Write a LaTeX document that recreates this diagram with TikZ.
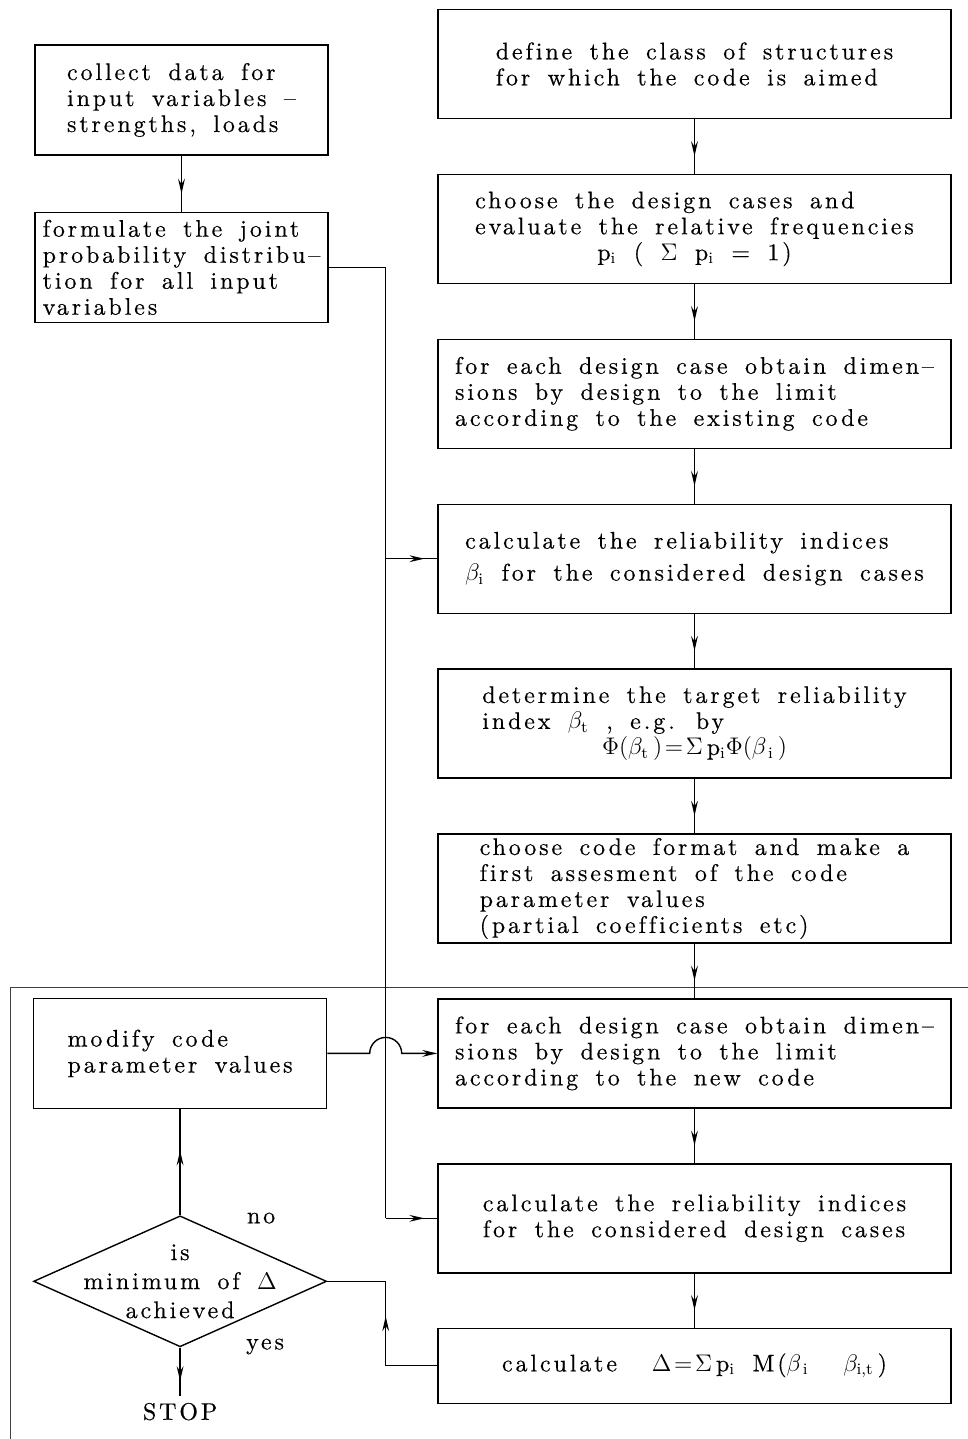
\documentclass[tikz,border=0pt]{standalone}
\usepackage{fontspec}
\usetikzlibrary{arrows.meta,positioning,calc,shapes.geometric,decorations.markings}
\newfontfamily\boxfont{lmroman10-regular.otf}[LetterSpace=12,WordSpace=1.6,Ligatures=CommonOff,FakeBold=0.4]
\newcommand\idx[1]{$_{\mathrm{#1}}$}
\tikzset{
  >={Stealth[length=7.5pt,width=3.4pt,inset=2.6pt]},
  txt/.style={font=\boxfont\fontsize{12pt}{13pt}\selectfont},
  rbox/.style={draw,txt,align=left,minimum width=256.5pt,minimum height=54.5pt,inner ysep=0pt,inner xsep=0pt},
  lbox/.style={draw,txt,align=left,minimum width=146.5pt,minimum height=55pt,inner ysep=0pt,inner xsep=0pt},
  dbox/.style={draw,diamond,minimum width=146.5pt,minimum height=65.5pt,inner sep=0pt},
  dtxt/.style={font=\boxfont\fontsize{12pt}{14.5pt}\selectfont,align=center},
  frame/.style={draw=black!75,line width=0.5pt},
  midarrow/.style={postaction={decorate,decoration={markings,mark=at position #1 with {\arrow{>}}}}},
  midarrow/.default=0.68
}

\begin{document}
\begin{tikzpicture}[x=0.5pt,y=-0.5pt,node distance=27.25pt,line width=0.7pt]
  \useasboundingbox (0,0) rectangle (968,1439);
  % loop frame
  \draw[frame] (10,1460) -- (10,987) -- (990,987);

  % main column
  \node[rbox] (r1) at (694.5,64) {define the class of structures\\for which the code is aimed};
  \node[rbox,below=of r1] (r2) {choose the design cases and\\evaluate the relative frequencies\\\hfil p\idx{i} ( $\Sigma$ p\idx{i} = 1)};
  \node[rbox,below=of r2] (r3) {for each design case obtain dimen–\\sions by design to the limit\\according to the existing code};
  \node[rbox,below=of r3] (r4) {calculate the reliability indices\\[3pt]$\beta_{\mathrm{i}}$ for the considered design cases};
  \node[rbox,below=of r4] (r5) {determine the target reliability\\index $\beta_{\mathrm{t}}$ , e.g. by\\\hfil$\Phi(\beta_{\mathrm{t}}\,)\!=\!\Sigma\,$p\idx{i}$\Phi(\beta_{\,\mathrm{i}}\,)$};
  \node[rbox,below=of r5] (r6) {choose code format and make a\\first assesment of the code\\parameter values\\(partial coefficients etc)};
  \node[rbox,below=of r6] (r7) {for each design case obtain dimen–\\sions by design to the limit\\according to the new code};
  \node[rbox,below=of r7] (r8) {calculate the reliability indices\\for the considered design cases};
  \node[rbox,below=27pt of r8,minimum height=37.5pt,align=center] (r9) {calculate \ $\Delta\!=\!\Sigma\,$p\idx{i} M($\beta_{\,\mathrm{i}}$ \ $\beta_{\mathrm{i,t}}\,$)};

  % input side
  \node[lbox] (a) at (181.5,100) {collect data for\\input variables –\\strengths, loads};
  \node[lbox,below=28pt of a] (b) {formulate the joint\\probability distribu–\\tion for all input\\variables};

  % loop side
  \node[lbox,left=55pt of r7] (c) {modify code\\parameter values};
  \node[dbox,below=53pt of c,label={[dtxt]center:is\\minimum of $\Delta$\\achieved}] (dia) {};
  \node[txt,below=24pt of dia] (stop) {STOP};
  \node[txt] (no) at ($(dia.north)+(81,3)$) {no};
  \node[txt] (yes) at ($(dia.south)+(85,-1)$) {yes};

  \coordinate (trunk) at ($(b.east)+(57,0)$);

  \draw[midarrow] (a) -- (b);
  \foreach \u/\v in {r1/r2,r2/r3,r3/r4,r4/r5,r5/r6,r6/r7,r7/r8,r8/r9}
    \draw[midarrow] (\u) -- (\v);

  \draw (b.east) -- (trunk) -- (trunk |- r8.west);
  \draw[midarrow=0.75] (trunk |- r4.west) -- (r4.west);
  \draw[midarrow=0.75] (trunk |- r8.west) -- (r8.west);
  \draw[->] (c.east) -- ($(trunk |- c.east)+(-8pt,0)$) arc[start angle=180,end angle=0,radius=8pt] -- (r7.west);
  \draw[midarrow=0.52] (r9.west) -- (r9.west -| trunk) -- (trunk |- dia.east) -- (dia.east);
  \draw[midarrow=0.61] (dia.north) -- (c.south);
  \draw[midarrow=0.7] (dia.south) -- (stop.north);
\end{tikzpicture}
\end{document}
